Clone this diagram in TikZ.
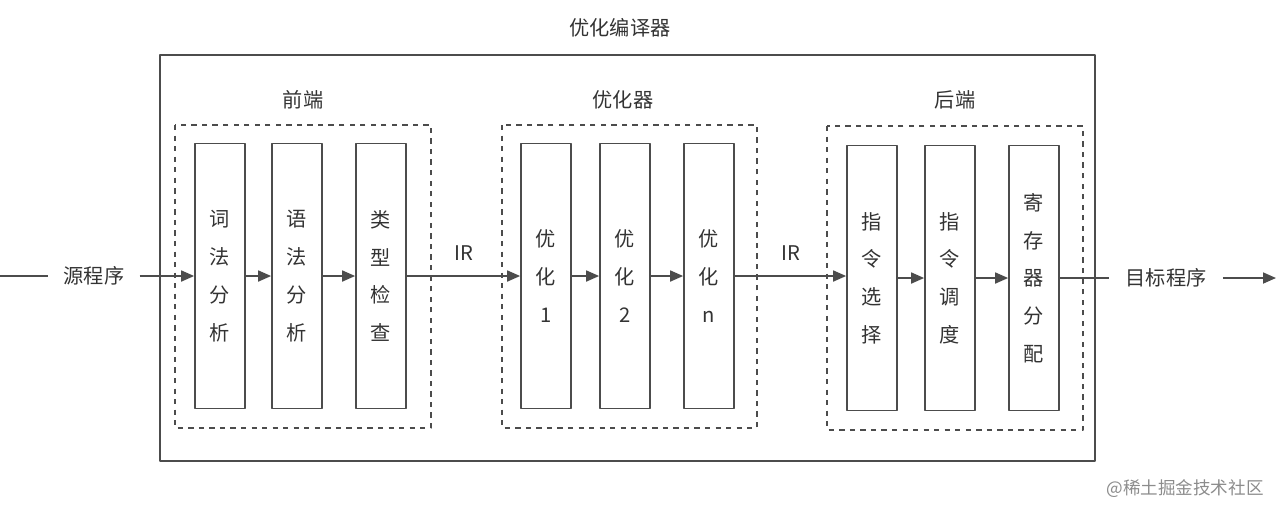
\documentclass[tikz,border=0pt]{standalone}
\usepackage{fontspec}
\setmainfont{Noto Sans CJK SC}
\usetikzlibrary{arrows.meta}

\begin{document}
\begin{tikzpicture}[x=0.02cm, y=-0.02cm, >={Triangle[length=2.6mm,width=2.2mm]}, line join=round,
	font=\fontsize{11.5}{21.5}\selectfont, draw=black!70, text=black!80,
	stage/.style={draw=black!70, line width=1pt, minimum width=1cm, minimum height=5.3cm, align=center, inner sep=0pt},
	group/.style={draw=black!70, line width=1.4pt, dash pattern=on 3pt off 3pt},
	flow/.style={draw=black!70, line width=1pt}]
	\useasboundingbox (0,0) rectangle (1280,515);
	% compiler frame
	\node (title) at (620,28) {优化编译器};
	\draw[flow] (160,55) rectangle (1095,461);
	% groups
	\draw[group] (175,125) rectangle (431,428);
	\draw[group] (502,125) rectangle (757,428);
	\draw[group] (827,126) rectangle (1083,430);
	\node (front) at (303,100) {前端};
	\node (opt) at (623,100) {优化器};
	\node (back) at (955,100) {后端};
	% stages
	\node[stage] (cifa) at (220,276) {词\\法\\分\\析};
	\node[stage] (yufa) at (297,276) {语\\法\\分\\析};
	\node[stage] (leixing) at (381,276) {类\\型\\检\\查};
	\node[stage] (opta) at (546,276) {优\\化\\1};
	\node[stage] (optb) at (625,276) {优\\化\\2};
	\node[stage] (optn) at (709,276) {优\\化\\n};
	\node[stage] (xuanze) at (872,278) {指\\令\\选\\择};
	\node[stage] (diaodu) at (950,278) {指\\令\\调\\度};
	\node[stage] (fenpei) at (1034,278) {寄\\存\\器\\分\\配};
	% input and output
	\coordinate (in) at (0,276);
	\coordinate (end) at (1276,278);
	\node[inner sep=0.3cm] (src) at (94,276) {源程序};
	\node[inner sep=0.32cm] (dst) at (1166,278) {目标程序};
	\draw[flow] (in) -- (src);
	\draw[flow,->] (src) -- (cifa);
	\draw[flow,->] (cifa) -- (yufa);
	\draw[flow,->] (yufa) -- (leixing);
	\draw[flow,->] (leixing) -- node[above=5pt] {IR} (opta);
	\draw[flow,->] (opta) -- (optb);
	\draw[flow,->] (optb) -- (optn);
	\draw[flow,->] (optn) -- node[above=5pt] {IR} (xuanze.west |- optn);
	\draw[flow,->] (xuanze) -- (diaodu);
	\draw[flow,->] (diaodu) -- (fenpei);
	\draw[flow] (fenpei) -- (dst);
	\draw[flow,->] (dst) -- (end);
	\node[text=black!45, font=\fontsize{10}{12}\selectfont] (mark) at (1185,489) {@稀土掘金技术社区};
\end{tikzpicture}
\end{document}
